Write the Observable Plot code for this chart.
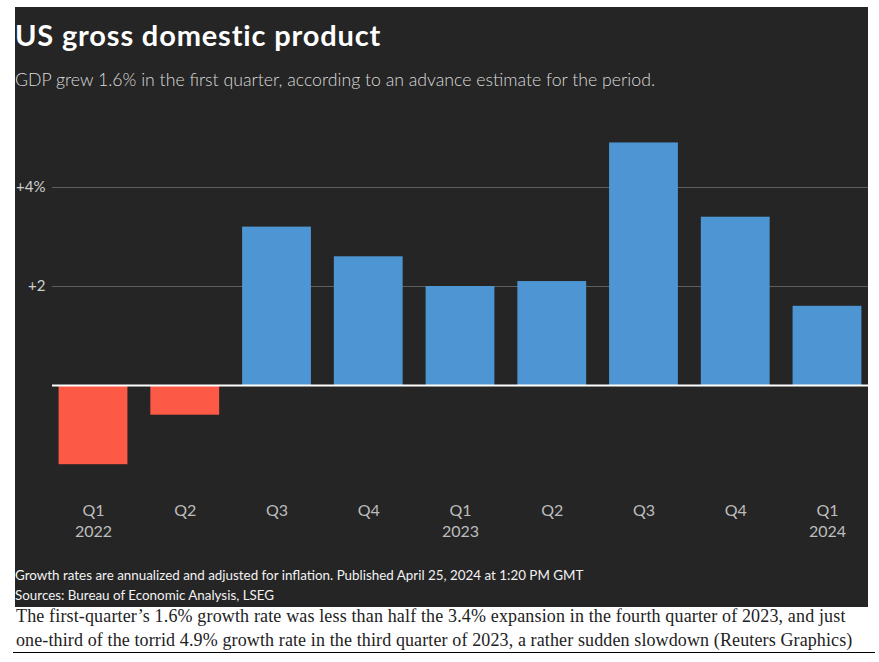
<!DOCTYPE html>
<html>
<head>
<meta charset="utf-8">
<script src="https://cdn.jsdelivr.net/npm/d3@7"></script>
<script src="https://cdn.jsdelivr.net/npm/@observablehq/plot@0.6"></script>
<style>
  html, body { margin: 0; padding: 0; background: #ffffff; }
  body { width: 879px; height: 662px; position: relative; overflow: hidden; }
  #panel { position: absolute; left: 15px; top: 7px; width: 853px; height: 600px; background: #252525; }
  .sans { font-family: "Source Sans Pro", "Lato", sans-serif; }
  #title { position: absolute; left: 0; top: 13.1px; font-size: 29px; letter-spacing: 0.83px; line-height: 1; font-weight: 700; color: #ffffff; white-space: nowrap; }
  #subtitle { position: absolute; left: 0; top: 64.4px; font-size: 17.7px; line-height: 1; font-weight: 300; color: #dadada; white-space: nowrap; }
  #chart { position: absolute; left: 0; top: 113px; }
  #notes { position: absolute; left: 0; top: 557.5px; font-size: 13.4px; line-height: 20.7px; color: #f2f2f2; white-space: nowrap; }
  #caption { position: absolute; left: 13px; top: 605px; width: 859px; padding-left: 3px; font-family: "Liberation Serif", "Times New Roman", serif; font-size: 18px; line-height: 23.7px; color: #222; white-space: nowrap; border-bottom: 1px solid #000; }
  #caption .l1 { letter-spacing: 0.15px; }
  #caption .l2 { letter-spacing: 0.12px; }
</style>
</head>
<body>
<div id="panel">
  <div id="title" class="sans">US gross domestic product</div>
  <div id="subtitle" class="sans">GDP grew 1.6% in the first quarter, according to an advance estimate for the period.</div>
  <div id="chart"></div>
  <div id="notes" class="sans">Growth rates are annualized and adjusted for inflation. Published April 25, 2024 at 1:20 PM GMT<br>Sources: Bureau of Economic Analysis, LSEG</div>
</div>
<div id="caption"><span class="l1">The first-quarter’s 1.6% growth rate was less than half the 3.4% expansion in the fourth quarter of 2023, and just</span><br><span class="l2">one-third of the torrid 4.9% growth rate in the third quarter of 2023, a rather sudden slowdown (Reuters Graphics)</span></div>
<script>
const quarters = ["Q1", "Q2", "Q3", "Q4", "Q1", "Q2", "Q3", "Q4", "Q1"];
const years = ["2022", "", "", "", "2023", "", "", "", "2024"];
const growth = [-1.6, -0.6, 3.2, 2.6, 2.0, 2.1, 4.9, 3.4, 1.6];
const yTicks = [2, 4];
const yTickLabels = ["+2", "+4%"];

const data = quarters.map((q, i) => ({key: i, quarter: q, year: years[i], growth: growth[i], sign: growth[i] < 0 ? "neg" : "pos"}));
const keys = data.map(d => d.key);

const chart = Plot.plot({
  width: 853,
  height: 434,
  marginLeft: 37,
  marginRight: 0,
  marginTop: 17.5,
  marginBottom: 70,
  style: {background: "transparent", fontFamily: "'Source Sans Pro', Lato, sans-serif"},
  x: {domain: keys, paddingInner: 0.25, paddingOuter: 0.072, round: false, axis: null},
  y: {domain: [-2, 5], axis: null},
  color: {domain: ["neg", "pos"], range: ["#fc5a46", "#4e96d3"]},
  marks: [
    Plot.ruleY(yTicks, {stroke: "#5e5e5e", strokeWidth: 1}),
    Plot.barY(data, {x: "key", y: "growth", fill: "sign"}),
    Plot.ruleY([0], {stroke: "#ffffff", strokeWidth: 2}),
    Plot.axisY(yTicks, {anchor: "left", tickSize: 0, tickPadding: 7, fontSize: 15, color: "#cfcfcf",
      tickFormat: v => yTickLabels[yTicks.indexOf(v)], label: null}),
    Plot.axisX(keys, {anchor: "bottom", tickSize: 0, tickPadding: 20.6, fontSize: 16, color: "#bdbdbd",
      tickFormat: k => quarters[k], label: null}),
    Plot.axisX(keys, {anchor: "bottom", tickSize: 0, tickPadding: 41.3, fontSize: 16, color: "#bdbdbd",
      tickFormat: k => years[k], label: null})
  ]
});
document.getElementById("chart").appendChild(chart);
</script>
</body>
</html>
